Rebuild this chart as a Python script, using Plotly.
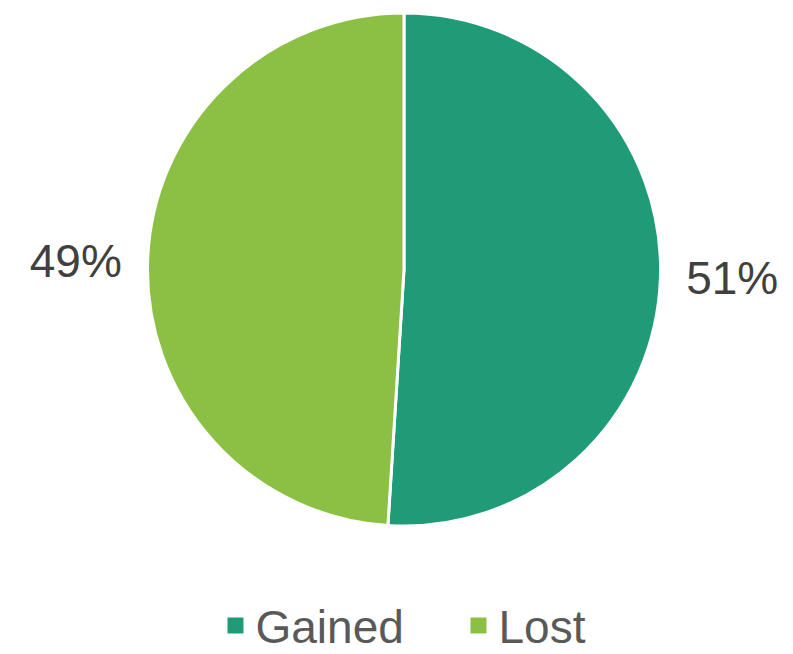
import plotly.graph_objects as go

labels = ["Gained", "Lost"]
values = [51, 49]
colors = ["#1F9B77", "#8BC045"]

W, H = 793, 654
# the page body adds an 8px offset, so the layout positions are shifted by -8
OFF = 8

fig = go.Figure(go.Pie(
    labels=labels,
    values=values,
    sort=False,
    direction="clockwise",
    rotation=0,
    marker=dict(colors=colors, line=dict(color="white", width=3)),
    textposition="outside",
    texttemplate="\u00a0%{percent:.0%}\u00a0",
    textfont=dict(size=46, color="#404040", family="Liberation Sans, Arial"),
    showlegend=False,
    domain=dict(x=[(144 - OFF) / W, (662 - OFF) / W],
                y=[1 - (525 - OFF) / H, 1]),
))

# legend entries with larger square markers
for name, col in zip(labels, colors):
    fig.add_trace(go.Scatter(
        x=[None], y=[None], mode="markers", name=name,
        marker=dict(symbol="square", size=21, color=col),
        showlegend=True,
    ))

fig.update_layout(
    width=W,
    height=H,
    autosize=False,
    margin=dict(l=0, r=0, t=0, b=0),
    paper_bgcolor="white",
    plot_bgcolor="white",
    xaxis=dict(visible=False),
    yaxis=dict(visible=False),
    font=dict(family="Liberation Sans, Arial", color="#595959"),
    legend=dict(
        orientation="h",
        x=(214 - OFF) / W, xanchor="left",
        y=0, yanchor="bottom",
        font=dict(size=46, color="#595959"),
        itemsizing="trace",
        itemwidth=30,
        entrywidth=198,
        entrywidthmode="pixels",
        bgcolor="rgba(0,0,0,0)",
    ),
)

fig.write_html("out.html")
